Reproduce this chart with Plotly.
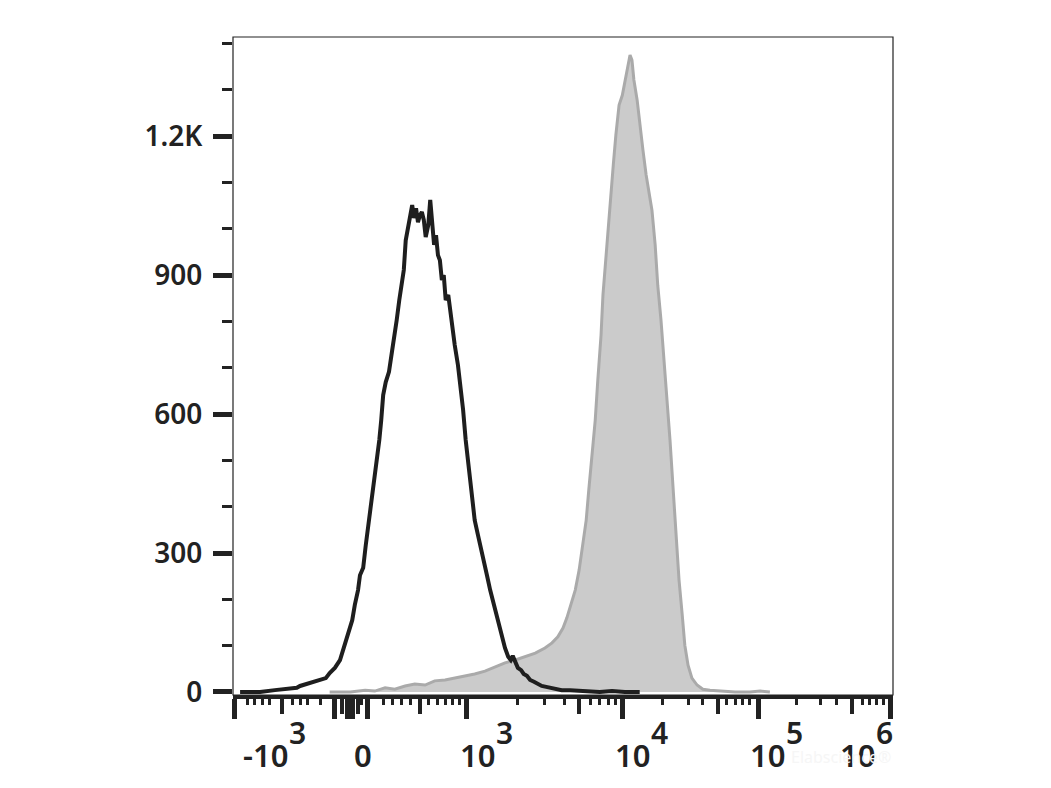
import plotly.graph_objects as go

# ---------------- data (channel units 0-1024 on a biexponential display) ----------------
black_ch = [11, 42, 65, 81, 88, 99, 104, 119, 132, 138, 144, 150, 158, 166, 172, 178, 185, 189, 194, 197,
            202, 206, 211, 216, 220, 223, 227, 230, 233, 237, 242, 247, 251, 254, 258, 262, 265, 268, 272,
            275, 278, 281, 284, 287, 290, 293, 296, 299, 303, 306, 309, 312, 315, 318, 321, 324, 327, 330,
            334, 337, 340, 344, 349, 352, 357, 361, 366, 371, 375, 380, 385, 389, 394, 399, 403, 408, 413,
            417, 422, 427, 431, 434, 438, 442, 447, 451, 456, 461, 467, 473, 479, 486, 492, 501, 510, 523,
            538, 554, 569, 588, 608, 631]
black_count = [0, 0, 4, 6, 9, 9, 13, 19, 24, 26, 30, 41, 52, 69, 95, 123, 155, 188, 220, 252,
               268, 317, 371, 414, 468, 490, 544, 587, 641, 669, 691, 738, 770, 803, 846, 878, 911, 975, 1008,
               1029, 1051, 1023, 1044, 1014, 1029, 1036, 1019, 982, 1008, 1062, 997, 965, 986, 943, 932, 889, 900, 846,
               857, 824, 781, 749, 706, 673, 609, 544, 479, 414, 371, 339, 311, 285, 252, 220, 199, 173, 145,
               119, 95, 76, 69, 78, 65, 52, 47, 39, 35, 26, 22, 17, 13, 11, 9, 6, 4, 4,
               2, 0, 0, 2, 0, 0]

gray_ch = [150, 182, 205, 220, 236, 251, 267, 282, 298, 313, 329, 344, 360, 375, 391, 406, 422, 438, 453,
           469, 484, 495, 504, 512, 518, 524, 531, 537, 543, 548, 552, 557, 562, 566, 571, 574, 577, 580,
           585, 590, 594, 599, 604, 607, 611, 616, 619, 622, 627, 631, 636, 641, 645, 650, 655, 659, 664,
           669, 673, 678, 683, 687, 692, 697, 701, 706, 712, 720, 729, 740, 756, 779, 802, 818, 833]
gray_count = [0, 0, 4, 2, 9, 6, 13, 17, 15, 24, 26, 30, 35, 39, 45, 54, 63, 69, 76,
              84, 95, 106, 119, 138, 160, 188, 220, 263, 317, 371, 436, 511, 587, 673, 770, 857, 911, 975,
              1062, 1137, 1202, 1267, 1288, 1310, 1332, 1375, 1364, 1321, 1278, 1224, 1170, 1116, 1083, 1040, 965, 878, 803,
              716, 630, 544, 436, 339, 242, 166, 101, 58, 30, 15, 6, 4, 2, 0, 0, 2, 0]

# axis ticks (channel positions) and labels
x_major_ticks = [3, 158, 178, 185, 208, 363, 604, 816, 1020]
x_mid_ticks = [76, 169, 194, 290, 537, 752, 960]
x_small_ticks = [22, 34, 45, 57, 92, 104, 116, 135, 200, 233, 248, 262, 275, 303, 317, 329, 341, 352,
                 442, 484, 515, 554, 569, 582, 593, 667, 706, 729, 766, 779, 790, 801,
                 875, 911, 937, 976, 988, 999, 1009]

x_label_base = ["-10", "10", "10", "10", "10"]
x_label_exp = ["3", "3", "4", "5", "6"]
x_label_pos = [88, 410, 650, 860, 999]
zero_label = "0"
zero_label_pos = 202

y_tick_vals = [0, 300, 600, 900, 1200]
y_tick_text = ["0", "300", "600", "900", "1.2K"]
y_minor_vals = [100, 200, 400, 500, 700, 800, 1000, 1100, 1300, 1400]

INK = "#222222"
FONT = "Noto Sans"
WEIGHT = 600

fig = go.Figure()
fig.add_trace(go.Scatter(x=gray_ch, y=gray_count, mode="lines", fill="tozeroy",
                         fillcolor="#cbcbcb", line=dict(color="#aaaaaa", width=3),
                         showlegend=False, hoverinfo="skip"))
fig.add_trace(go.Scatter(x=black_ch, y=black_count, mode="lines",
                         line=dict(color="#1e1e1e", width=4),
                         showlegend=False, hoverinfo="skip"))
# carrier trace for the overlaid small-tick axis
fig.add_trace(go.Scatter(x=[], y=[], xaxis="x2", yaxis="y", showlegend=False))

fig.update_layout(
    width=1051, height=788, autosize=False,
    margin=dict(l=225, r=166, t=29, b=101),
    paper_bgcolor="white", plot_bgcolor="white",
    xaxis=dict(range=[0, 1024], showgrid=False, zeroline=False,
               showline=True, linewidth=4, linecolor=INK,
               ticks="outside", tickmode="array", tickvals=x_major_ticks,
               ticklen=20, tickwidth=5, tickcolor=INK, showticklabels=False,
               minor=dict(tickmode="array", tickvals=x_mid_ticks, ticks="outside",
                          ticklen=15, tickwidth=4, tickcolor=INK, showgrid=False)),
    xaxis2=dict(range=[0, 1024], overlaying="x", side="bottom", showgrid=False,
                zeroline=False, showline=False, ticks="outside", tickmode="array",
                tickvals=x_small_ticks, ticklen=9, tickwidth=3, tickcolor=INK,
                showticklabels=False),
    yaxis=dict(range=[-6.5, 1413.8], showgrid=False, zeroline=False, showline=False,
               ticks="outside", tickmode="array", tickvals=y_tick_vals, ticktext=y_tick_text,
               ticklen=19, tickwidth=5, tickcolor=INK, ticklabelstandoff=5,
               tickfont=dict(family=FONT, size=28, color=INK, weight=WEIGHT),
               minor=dict(tickmode="array", tickvals=y_minor_vals, ticks="outside",
                          ticklen=10, tickwidth=3, tickcolor=INK, showgrid=False)),
    shapes=[dict(type="rect", xref="paper", yref="paper", x0=0, y0=0, x1=1, y1=1,
                 line=dict(color=INK, width=1.2), layer="above")],
)

annotations = []
for base, ex, pos in zip(x_label_base, x_label_exp, x_label_pos):
    annotations.append(dict(x=pos, y=0, xref="x", yref="paper", text=base, showarrow=False,
                            xanchor="right", yanchor="middle", yshift=-60,
                            font=dict(family=FONT, size=31, color=INK, weight=WEIGHT)))
    annotations.append(dict(x=pos, y=0, xref="x", yref="paper", text=ex, showarrow=False,
                            xanchor="left", yanchor="middle", yshift=-37, xshift=-3,
                            font=dict(family=FONT, size=30, color=INK, weight=WEIGHT)))
annotations.append(dict(x=zero_label_pos, y=0, xref="x", yref="paper", text=zero_label,
                        showarrow=False, xanchor="center", yanchor="middle", yshift=-60,
                        font=dict(family=FONT, size=31, color=INK, weight=WEIGHT)))
annotations.append(dict(x=1.0, y=0, xref="paper", yref="paper", text="Elabscience®",
                        showarrow=False, xanchor="right", yanchor="middle", yshift=-62,
                        font=dict(family=FONT, size=16, color="#f6f6f6")))
fig.update_layout(annotations=annotations)

fig.write_html("out.html")
